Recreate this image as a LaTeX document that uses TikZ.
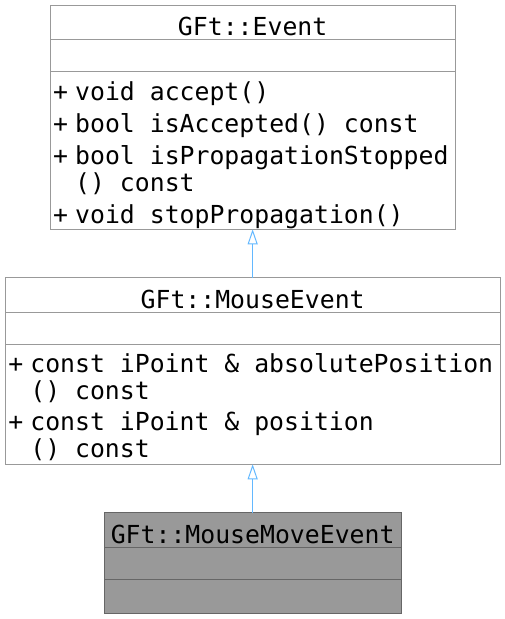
\documentclass[tikz,border=0pt]{standalone}
\usepackage{fontspec}
\newfontfamily\umlfont{DejaVu Sans Mono}
\usetikzlibrary{arrows.meta,positioning}

\definecolor{grey40}{HTML}{666666}
\definecolor{grey60}{HTML}{999999}
\definecolor{steelblue}{HTML}{63B8FF}

\newcommand\umlplus{\strut\makebox[22pt][l]{+}}
\newcommand\umlindent{\strut\hspace*{22pt}}

\begin{document}
\begin{tikzpicture}[x=1pt, y=-1pt, node distance=48.3pt, >={Triangle[open, length=15pt, width=10pt]}]
        \tikzstyle{part} = [draw=grey60, fill=white, rectangle, line width=1pt, outer sep=0pt, inner sep=0pt]
        \tikzstyle{head} = [part, minimum height=34.5pt, text height=26.5pt, text depth=0pt, font=\umlfont\fontsize{24.8}{27}\selectfont]
        \tikzstyle{attrs} = [part, minimum height=32pt]
        \tikzstyle{member} = [inner sep=0pt, align=left, font=\umlfont\fontsize{24.8}{27}\selectfont]
        \tikzstyle{inherit} = [->, draw=steelblue, line width=1pt]

        \useasboundingbox (0,0) rectangle (505,619);

        % GFt::Event
        \node [head, minimum width=405.3pt, anchor=north west] (event) at (50,5) {GFt::Event};
        \node [attrs, minimum width=405.3pt, below=0pt of event] (eventattrs) {};
        \node [part, minimum width=405.3pt, minimum height=157.8pt, below=0pt of eventattrs] (eventops) {};
        \node [member, anchor=north west] (eventmembers) at ([shift={(3,9.4)}]eventops.north west)
            {\umlplus void accept()\\[4.3pt]
             \umlplus bool isAccepted() const\\[4.3pt]
             \umlplus bool isPropagationStopped\\
             \umlindent () const\\[4.3pt]
             \umlplus void stopPropagation()};

        % GFt::MouseEvent
        \node [head, minimum width=495pt, below=of eventops] (mouse) {GFt::MouseEvent};
        \node [attrs, minimum width=495pt, below=0pt of mouse] (mouseattrs) {};
        \node [part, minimum width=495pt, minimum height=120.2pt, below=0pt of mouseattrs] (mouseops) {};
        \node [member, anchor=north west] (mousemembers) at ([shift={(3,9.4)}]mouseops.north west)
            {\umlplus const iPoint \& absolutePosition\\
             \umlindent () const\\[4.3pt]
             \umlplus const iPoint \& position\\
             \umlindent () const};

        % GFt::MouseMoveEvent
        \node [head, draw=grey40, fill=grey60, minimum width=297.3pt, below=of mouseops] (move) {GFt::MouseMoveEvent};
        \node [attrs, draw=grey40, fill=grey60, minimum width=297.3pt, below=0pt of move] (moveattrs) {};
        \node [attrs, draw=grey40, fill=grey60, minimum width=297.3pt, minimum height=34.5pt, below=0pt of moveattrs] (moveops) {};

        \draw [inherit] (mouse.north) -- (eventops.south);
        \draw [inherit] (move.north) -- (mouseops.south);
\end{tikzpicture}
\end{document}
